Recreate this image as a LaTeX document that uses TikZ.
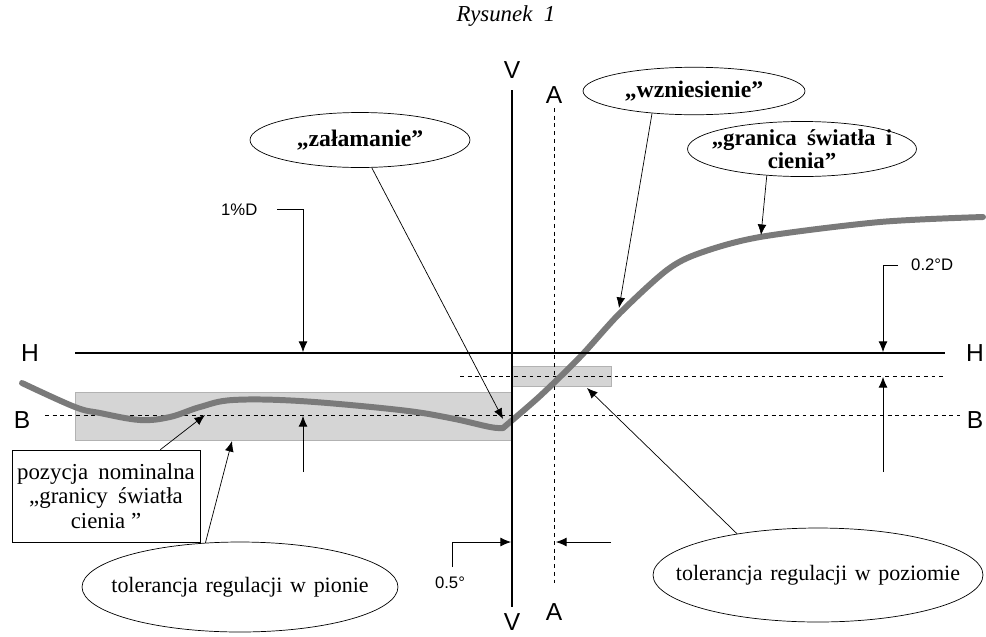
\documentclass[tikz,border=0pt]{standalone}
\usepackage{fontspec}
\setmainfont{Liberation Serif}
\newfontfamily\labelfont{Liberation Sans}
\usetikzlibrary{shapes.geometric,arrows.meta}

\newcommand{\gap}{\hspace{0.45em}}
\newcommand{\sgap}{\hspace{0.35em}}

\begin{document}
\begin{tikzpicture}[x=0.02cm, y=-0.02cm,
        bubble/.style={ellipse, draw, thin, inner ysep=0pt, inner xsep=-1.2cm, font=\fontsize{12.5}{14}\selectfont},
        callout/.style={bubble, font=\bfseries\fontsize{13.5}{14}\selectfont},
        tag/.style={font=\labelfont\fontsize{14}{14}\selectfont},
        small/.style={font=\labelfont\fontsize{9.5}{10}\selectfont},
        zone/.style={rectangle, fill=gray!33, draw=gray!60, thin, inner sep=0pt},
        ref/.style={draw, line width=1.6pt},
        guide/.style={draw, thin, dash pattern=on 2.2pt off 2.2pt},
        line/.style={draw, thin, -{Latex[length=6pt, width=5pt]}},
        cutoff/.style={draw=black!52, line width=3.4pt, line join=round, line cap=round}
    ]
        \useasboundingbox (0,0) rectangle (986,636);

        \node[font=\itshape\fontsize{13}{14}\selectfont] (title) at (506,16) {Rysunek\ \ 1};

        \node[zone, anchor=north west, minimum width=8.74cm, minimum height=0.96cm] (vband) at (75,392) {};
        \node[zone, anchor=north west, minimum width=1.98cm, minimum height=0.4cm] (hband) at (512,366) {};

        \coordinate (H1) at (75,353);
        \coordinate (H2) at (945,353);
        \coordinate (B1) at (45,415);
        \coordinate (B2) at (960,415);
        \coordinate (T1) at (460,376);
        \coordinate (T2) at (947,376);
        \coordinate (V1) at (512,90);
        \coordinate (V2) at (512,607);
        \coordinate (A1) at (554,108);
        \coordinate (A2) at (554,587);

        \node[tag] (hl) at (30,353) {H};
        \node[tag] (hr) at (975,353) {H};
        \node[tag] (bl) at (22,420) {B};
        \node[tag] (br) at (975,420) {B};
        \node[tag] (vt) at (512,70) {V};
        \node[tag] (vb) at (512,622) {V};
        \node[tag] (at) at (554,95) {A};
        \node[tag] (ab) at (554,612) {A};

        \draw[guide] (B1) -- (B2);
        \draw[guide] (T1) -- (T2);
        \draw[guide] (A1) -- (A2);

        \draw[cutoff] plot[smooth, tension=0.6] coordinates {(22,383) (75,407) (100,413) (140,420) (170,417) (200,407) (233,400) (300,401) (400,410) (450,418) (490,427) (503,428)};
        \draw[cutoff] plot[smooth, tension=0.5] coordinates {(503,428) (540,396) (580,357) (620,313) (667,270) (700,253) (760,237) (880,222) (983,217)};

        \draw[ref] (H1) -- (H2);
        \draw[ref] (V1) -- (V2);

        \node[small, anchor=west] (pct) at (215,210) {1\%D};
        \coordinate (pctK) at (277,209);
        \coordinate (pctH) at (303,352);
        \coordinate (pctL) at (303,472);
        \coordinate (pctB) at (303,416);
        \draw[line] (pctK) -| (pctH);
        \draw[line] (pctL) -- (pctB);

        \node[small, anchor=west] (deg) at (905,265) {0.2°D};
        \coordinate (degK) at (898,265);
        \coordinate (degH) at (883,352);
        \coordinate (degL) at (883,472);
        \coordinate (degT) at (883,377);
        \draw[line] (degK) -| (degH);
        \draw[line] (degL) -- (degT);

        \node[small] (half) at (450,583) {0.5°};
        \coordinate (halfK) at (452,567);
        \coordinate (halfV) at (511,542);
        \coordinate (halfR) at (611,542);
        \coordinate (halfA) at (556,542);
        \draw[line] (halfK) |- (halfV);
        \draw[line] (halfR) -- (halfA);

        \node[callout, minimum width=4.4cm, minimum height=1.1cm] (zal) at (360,140) {„załamanie”};
        \node[callout, minimum width=4.44cm, minimum height=0.95cm] (wzn) at (694,91) {„wzniesienie”};
        \node[bubble, font=\bfseries\fontsize{13}{13}\selectfont, align=center, minimum width=4.58cm, minimum height=1.04cm] (gran) at (802,149) {„granica\gap światła\gap i\\cienia”};
        \node[bubble, minimum width=6.32cm, minimum height=1.8cm] (pion) at (240,587) {tolerancja\sgap regulacji\sgap w\sgap pionie};
        \node[bubble, minimum width=6.6cm, minimum height=1.88cm] (poz) at (818,575) {tolerancja\sgap regulacji\sgap w\sgap poziomie};
        \node[rectangle, draw, thin, align=center, minimum width=3.76cm, minimum height=1.84cm, inner sep=1pt, font=\fontsize{13}{14}\selectfont] (nom) at (106,496) {pozycja\gap nominalna\\„granicy\gap światła\\cienia\ ”};

        \coordinate (kink) at (503,419);
        \coordinate (rise) at (619,308);
        \coordinate (rim) at (761,235);
        \coordinate (vtol) at (232,441);
        \coordinate (htol) at (587,388);
        \coordinate (nomB) at (205,415);

        \draw[line] (zal.-67) -- (kink);
        \draw[line] (wzn.-152) -- (rise);
        \draw[line] (gran.-143) -- (rim);
        \draw[line] (pion.128) -- (vtol);
        \draw[line] (poz.153) -- (htol);
        \draw[line] ([xshift=-0.8cm]nom.north east) -- (nomB);
    \end{tikzpicture}
\end{document}
